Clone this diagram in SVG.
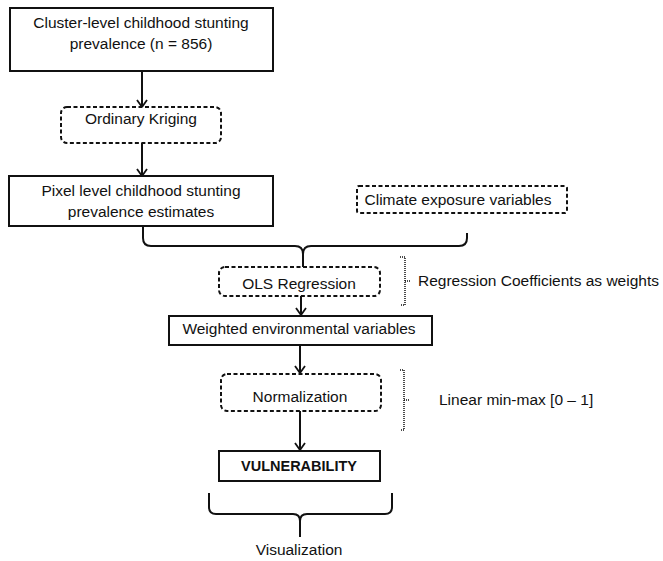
<svg xmlns="http://www.w3.org/2000/svg" width="663" height="561" viewBox="0 0 663 561">
<defs>
<style>
text{font-family:"Liberation Sans",Arial,sans-serif;font-size:15.5px;fill:#111}
.c{text-anchor:middle}
.b{font-weight:bold;font-size:14.5px}
.solid{fill:#fff;stroke:#111;stroke-width:2}
.dash{fill:#fff;stroke:#111;stroke-width:2;stroke-dasharray:4 2.5}
.ln{fill:none;stroke:#111;stroke-width:2}
.dot{fill:none;stroke:#111;stroke-width:1.5;stroke-dasharray:1 1}
</style>
<marker id="ah" viewBox="0 0 12 12" refX="11" refY="6" markerWidth="12" markerHeight="12" markerUnits="userSpaceOnUse" orient="auto">
<path d="M4 1 L11 6 L4 11" fill="none" stroke="#111" stroke-width="1.8"/>
</marker>
</defs>
<rect width="663" height="561" fill="#fff"/>
<g id="connectors">
<path class="ln" d="M142 71 V107" marker-end="url(#ah)"/>
<path class="ln" d="M142 143 V176" marker-end="url(#ah)"/>
<path class="ln" d="M143 226 V238 Q143 246 151 246 H295 Q303 246 303 254 V267"/>
<path class="ln" d="M467 233 V238 Q467 246 459 246 H311 Q303 246 303 254"/>
<path class="ln" d="M301 296 V315" marker-end="url(#ah)"/>
<path class="ln" d="M300 345 V373" marker-end="url(#ah)"/>
<path class="ln" d="M300 411 V450" marker-end="url(#ah)"/>
<path class="ln" d="M209 493 V507 Q209 514 216 514 H293 Q300 514 300 521 V537"/>
<path class="ln" d="M392 493 V507 Q392 514 385 514 H307 Q300 514 300 521"/>
<path class="dot" d="M400 257 H405 V305 H400 M405 281 H411"/>
<path class="dot" d="M400 370 H404 V430 H400 M404 400 H409"/>
</g>
<g id="n1">
<rect class="solid" x="10" y="8" width="263" height="63"/>
<text class="c" x="141" y="28">Cluster-level childhood stunting</text>
<text class="c" x="141" y="49">prevalence (n = 856)</text>
</g>
<g id="n2">
<rect class="dash" x="61" y="107" width="160" height="36" rx="6"/>
<text class="c" x="141" y="124">Ordinary Kriging</text>
</g>
<g id="n3">
<rect class="solid" x="9" y="176" width="264" height="50"/>
<text class="c" x="141" y="196">Pixel level childhood stunting</text>
<text class="c" x="141" y="217">prevalence estimates</text>
</g>
<g id="n4">
<rect class="dash" x="357" y="186" width="210" height="27" rx="2"/>
<text class="c" x="458" y="205">Climate exposure variables</text>
</g>
<g id="n5">
<rect class="dash" x="219" y="267" width="161" height="29" rx="6"/>
<text class="c" x="299" y="289">OLS Regression</text>
</g>
<g id="n6">
<rect class="solid" x="169" y="316" width="263" height="29"/>
<text class="c" x="299" y="334">Weighted environmental variables</text>
</g>
<g id="n7">
<rect class="dash" x="221" y="374" width="160" height="37" rx="6"/>
<text class="c" x="300" y="402">Normalization</text>
</g>
<g id="n8">
<rect class="solid" x="219" y="451" width="161" height="30"/>
<text class="c b" x="299" y="471">VULNERABILITY</text>
</g>
<g id="labels">
<text x="418" y="286">Regression Coefficients as weights</text>
<text x="439" y="405">Linear min-max [0 – 1]</text>
<text class="c" x="299" y="555">Visualization</text>
</g>
</svg>
